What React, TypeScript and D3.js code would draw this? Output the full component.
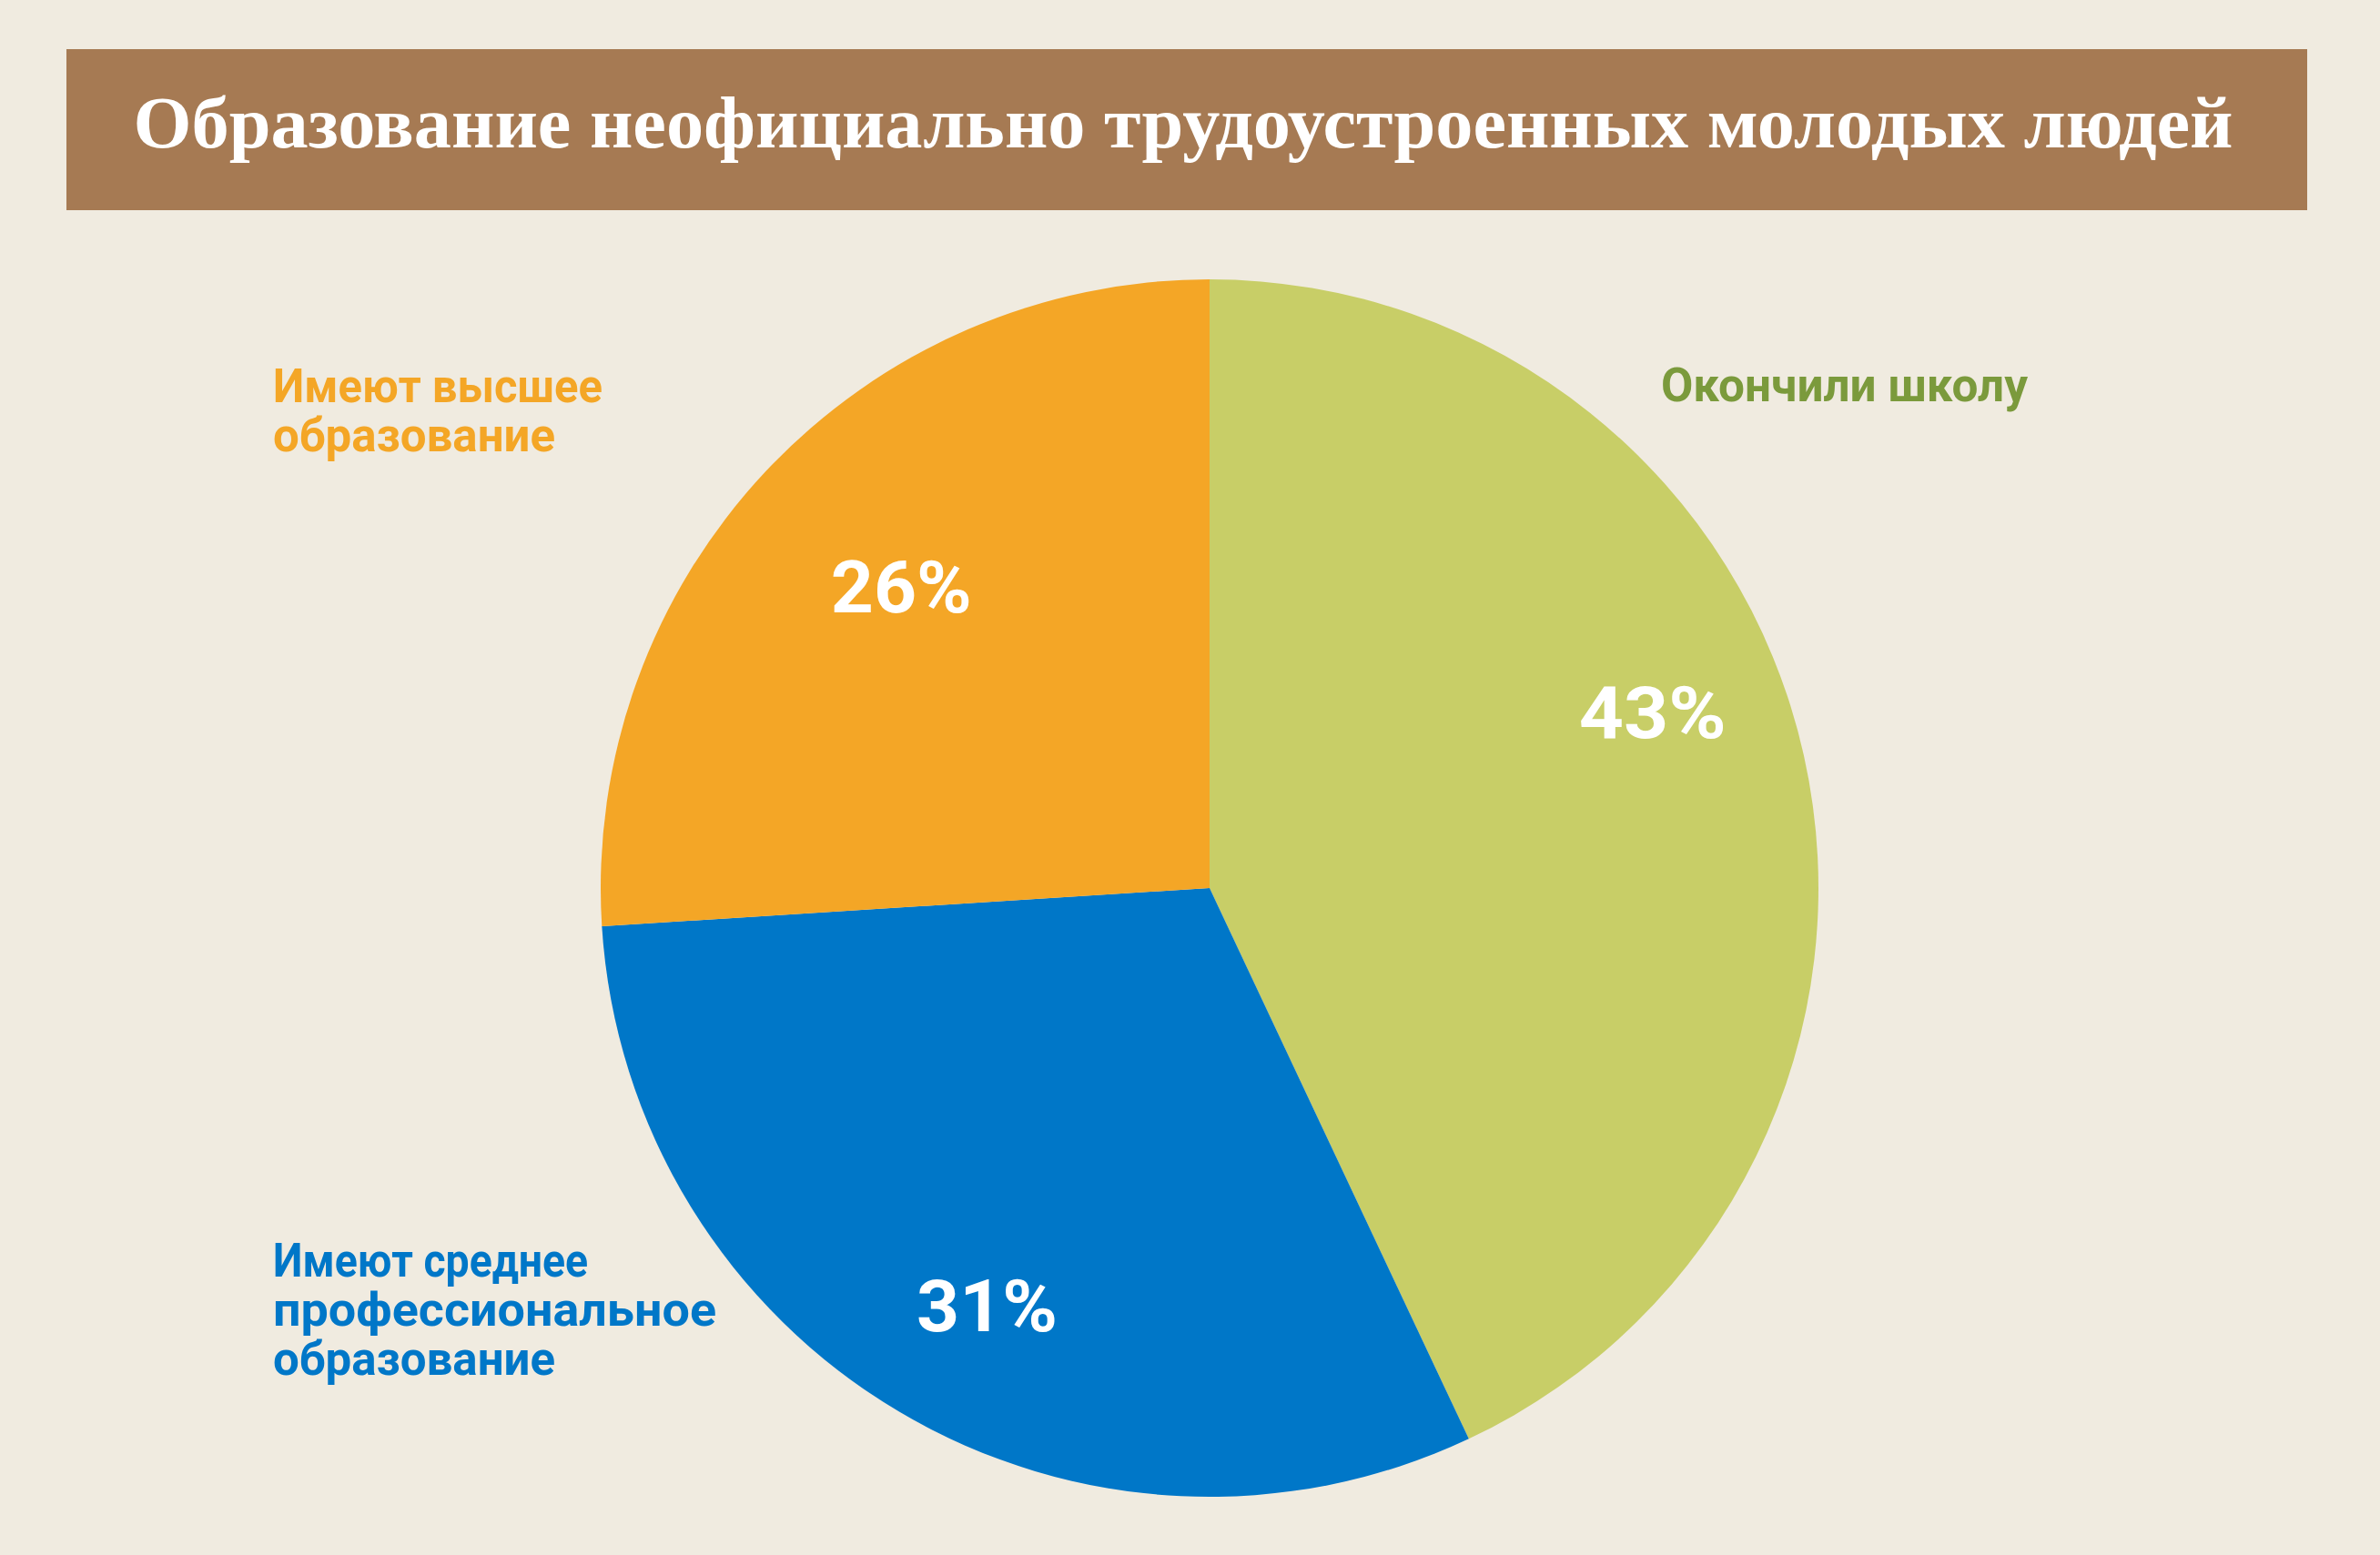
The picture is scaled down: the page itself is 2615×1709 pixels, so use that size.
import React from "react";
import * as d3 from "d3";

const title = "Образование неофициально трудоустроенных молодых людей";
const categories = ["Окончили школу", "Имеют среднее профессиональное образование", "Имеют высшее образование"];
const values = [43, 31, 26];
const labelLines = [["Окончили школу"], ["Имеют среднее", "профессиональное", "образование"], ["Имеют высшее", "образование"]];
const sliceColors = ["#C8CE67", "#0077C8", "#F4A626"];
const labelColors = ["#7B9A3C", "#0077C8", "#F4A626"];

const W = 2615;
const H = 1709;
const cx = 1329;
const cy = 976;
const R = 669;

// layout for category labels
const catPos = [
  { x: 1825, y: 441, widths: [403] },
  { x: 300, y: 1403, widths: [346, 487, 310] },
  { x: 300, y: 442, widths: [362, 310] },
];
const pctOffsets = [
  { dx: -3, dy: -83 },
  { dx: 11, dy: 27 },
  { dx: 27, dy: 13 },
];
const pctWidths = [162, 155, 155];

export default function App() {
  const pie = d3.pie<number>().sort(null).value((d) => d)(values);
  const arc = d3.arc<d3.PieArcDatum<number>>().innerRadius(0).outerRadius(R);
  const labelArc = d3.arc<d3.PieArcDatum<number>>().innerRadius(R * 0.75).outerRadius(R * 0.75);
  const fmt = (v: number) => `${v}%`;
  return (
    <svg width={W} height={H} style={{ position: "absolute", left: 0, top: 0, display: "block" }}>
      <rect x={0} y={0} width={W} height={H} fill="#F0EBE0" />
      <rect x={73} y={54} width={2462} height={177} fill="#A67A53" />
      <text
        x={1300}
        y={162}
        textAnchor="middle"
        fill="#FFFFFF"
        fontFamily="'Liberation Serif', 'DejaVu Serif', serif"
        fontWeight="bold"
        fontSize={80}
        textLength={2307}
        lengthAdjust="spacingAndGlyphs"
      >
        {title}
      </text>
      <g transform={`translate(${cx},${cy})`}>
        {pie.map((p, i) => (
          <path key={categories[i]} d={arc(p) || ""} fill={sliceColors[i]} />
        ))}
        {pie.map((p, i) => {
          const [x, y] = labelArc.centroid(p);
          return (
            <text
              key={"p" + i}
              x={x + pctOffsets[i].dx}
              y={y + pctOffsets[i].dy}
              dy="0.35em"
              textAnchor="middle"
              fill="#FFFFFF"
              fontFamily="Roboto, 'Open Sans', sans-serif"
              fontWeight="bold"
              fontSize={79}
              textLength={pctWidths[i]}
              lengthAdjust="spacingAndGlyphs"
            >
              {fmt(values[i])}
            </text>
          );
        })}
      </g>
      {labelLines.map((lines, i) => (
        <text
          key={"l" + i}
          x={catPos[i].x}
          y={catPos[i].y}
          fill={labelColors[i]}
          fontFamily="Roboto, 'Open Sans', sans-serif"
          fontWeight="bold"
          fontSize={52}
        >
          {lines.map((ln, j) => (
            <tspan
              key={j}
              x={catPos[i].x}
              y={catPos[i].y + j * 54}
              textLength={catPos[i].widths[j]}
              lengthAdjust="spacingAndGlyphs"
            >
              {ln}
            </tspan>
          ))}
        </text>
      ))}
    </svg>
  );
}
